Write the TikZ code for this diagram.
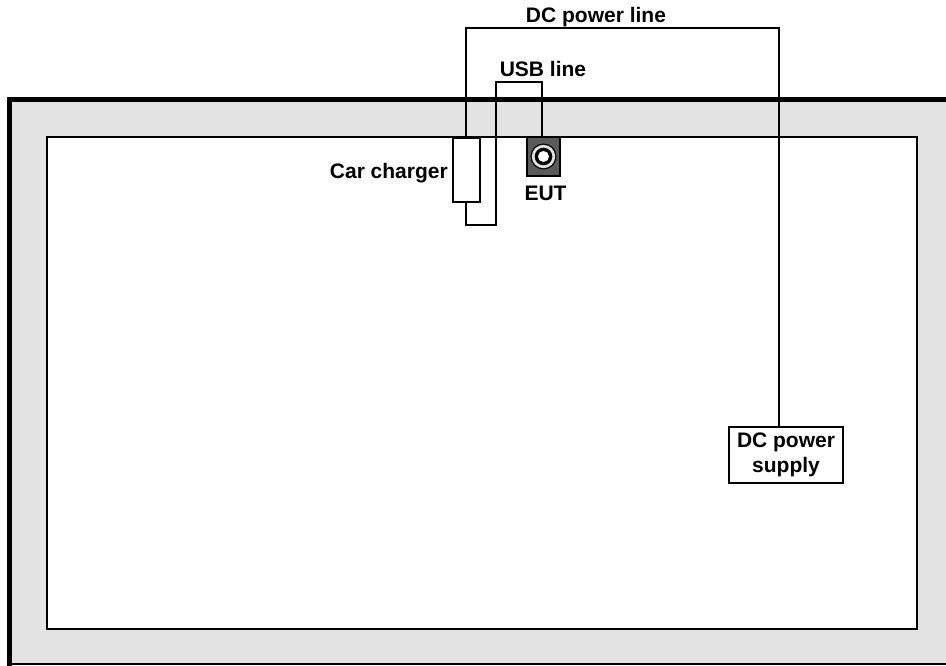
\documentclass[tikz,border=0pt]{standalone}
\usepackage{fontspec}
\setmainfont{Liberation Sans}
\begin{document}
\begin{tikzpicture}[x=1pt,y=-1pt,
  lbl/.style={font=\fontsize{21}{24}\selectfont\bfseries, inner sep=0pt},
  wire/.style={line width=1.6pt, draw=black},
  boxst/.style={draw=black, line width=1.6pt, fill=white},
]
\useasboundingbox (0,0) rectangle (946,666);
% outer frame
\fill[fill={rgb,255:red,227;green,227;blue,227}] (9.5,99.5) rectangle (960,664);
\draw[line width=1.5pt] (9.5,664) -- (960,664);
\draw[line width=5pt] (9.5,666) -- (9.5,99.5) -- (960,99.5);
% inner area
\draw[line width=2pt, fill=white] (47,137) rectangle (917,629);
% nodes
\node[boxst, minimum width=27pt, minimum height=64pt, inner sep=0pt] (cc) at (466.5,170) {};
\node[draw=black, line width=1.5pt, fill={rgb,255:red,90;green,90;blue,90}, minimum width=33pt, minimum height=39pt, inner sep=0pt] (eut) at (543.5,156.5) {};
\fill[black] (eut.center) circle (13pt);
\fill[white!88!black] (eut.center) circle (11.7pt);
\fill[black] (eut.center) circle (8.8pt);
\fill[white] (eut.center) circle (5.5pt);
\node[boxst, minimum width=114pt, minimum height=56pt, inner sep=0pt, align=center, font=\fontsize{21}{25}\selectfont\bfseries] (dcps) at (786,455) {DC power\\supply};
% wires
\coordinate (dctop) at (466,28);
\draw[wire] (cc.north -| dctop) -- (dctop) -- (779,28) -- (dcps.north -| 779,0);
\draw[wire] (cc.south -| dctop) -- (466,225) -- (496,225) -- (496,82) -- (542,82) -- (eut.north -| 542,0);
% labels
\node[lbl] (l1) at (596,17) {DC power line};
\node[lbl] (l2) at (543,69) {USB line};
\node[lbl, anchor=east] (l3) at (448,173) {Car charger};
\node[lbl] (l4) at (545.5,193) {EUT};
\end{tikzpicture}
\end{document}
